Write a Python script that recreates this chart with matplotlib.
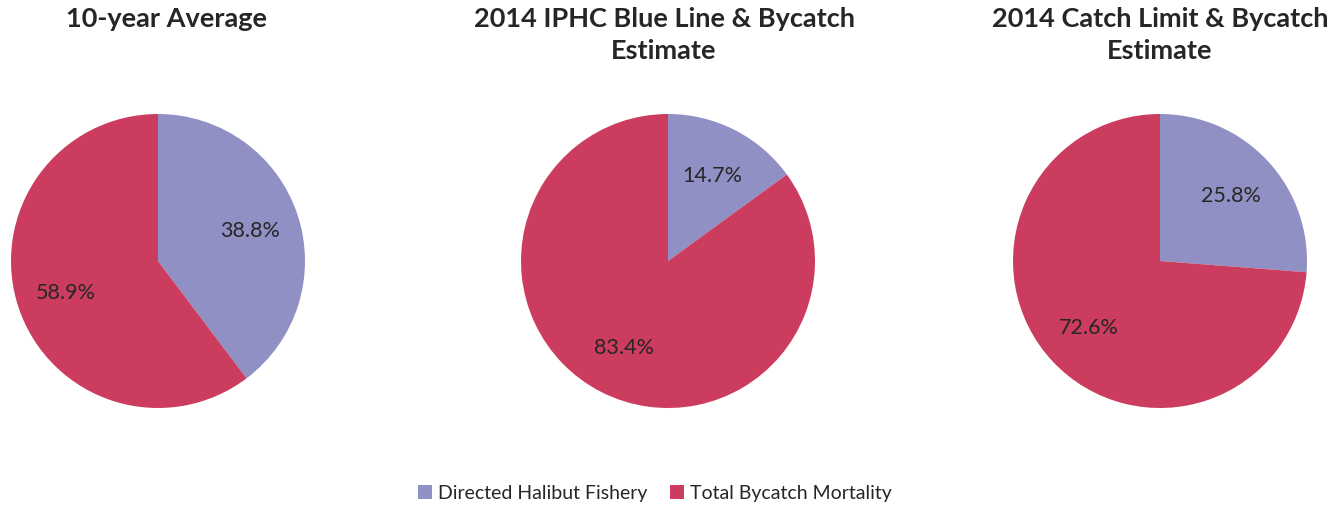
import matplotlib
matplotlib.use("Agg")
from matplotlib import pyplot as plt
import numpy as np

plt.rcParams['font.family'] = ['Lato', 'DejaVu Sans']

titles = ["10-year Average",
          "2014 IPHC Blue Line & Bycatch\nEstimate",
          "2014 Catch Limit & Bycatch\nEstimate"]
series = ["Directed Halibut Fishery", "Total Bycatch Mortality"]
directed = [38.8, 14.7, 25.8]
bycatch = [58.9, 83.4, 72.6]

colors = ["#9090c4", "#cc3c5e"]
txt = "#262626"

W, H = 1342, 510
fig = plt.figure(figsize=(W / 100, H / 100), dpi=100)
fig.patch.set_facecolor("white")

centers = [(158, 262), (668, 262), (1160, 262)]
title_x = [167, 664, 1160]
r = 147

wedges_first = None
for i in range(3):
    cx, cy = centers[i]
    ax = fig.add_axes([(cx - r) / W, 1 - (cy + r) / H, 2 * r / W, 2 * r / H])
    vals = [directed[i], bycatch[i]]
    labs = ["%.1f%%" % v for v in vals]
    wedges, _ = ax.pie(vals, colors=colors, startangle=90, counterclock=False,
                       wedgeprops=dict(linewidth=0))
    for w, lab in zip(wedges, labs):
        ang = np.deg2rad((w.theta1 + w.theta2) / 2)
        d = 0.66
        ax.text(d * np.cos(ang), d * np.sin(ang), lab, ha="center", va="center",
                fontsize=15.5, color=txt)
    ax.set_xlim(-1, 1)
    ax.set_ylim(-1, 1)
    ax.set_aspect("equal")
    ax.axis("off")
    if wedges_first is None:
        wedges_first = wedges
    fig.text(title_x[i] / W, 1 - 7 / H, titles[i], ha="center", va="top",
             fontsize=19.5, fontweight="bold", color=txt, linespacing=1.4)

fig.legend(wedges_first, series, loc="center", bbox_to_anchor=(655 / W, 1 - 494 / H),
           ncol=2, frameon=False, fontsize=14, handlelength=0.7, handleheight=0.7,
           handletextpad=0.3, columnspacing=1.2, labelcolor=txt)

fig.savefig("out.png", dpi=100, facecolor="white")
